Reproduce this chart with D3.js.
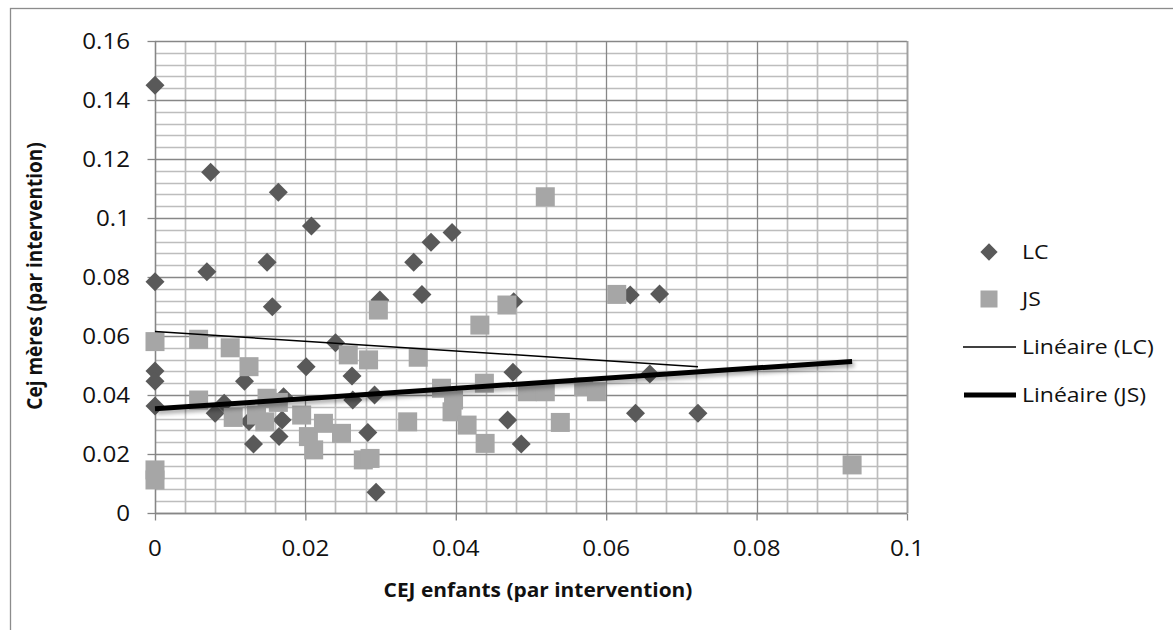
<!DOCTYPE html>
<html>
<head>
<meta charset="utf-8">
<script src="https://cdn.jsdelivr.net/npm/d3@7"></script>
<style>
  body { margin: 0; background: #fff; }
  text { font-family: "Open Sans", sans-serif; fill: #111; }
</style>
</head>
<body>
<script>
// *** DATA ***

// LC series: [CEJ enfants, Cej mères]
var lcPoints = [
  [0, 0.145], [0.0074, 0.1155], [0.0164, 0.1087], [0.0208, 0.0973],
  [0, 0.0784], [0.0069, 0.0818], [0.0149, 0.085], [0.0156, 0.0699],
  [0.0395, 0.0951], [0.0367, 0.0918], [0.0344, 0.085], [0.0355, 0.0741],
  [0.0299, 0.0722], [0.0477, 0.0716], [0.0632, 0.0739], [0.0671, 0.0742],
  [0.0658, 0.0471], [0.0639, 0.0338], [0.0722, 0.0338], [0.0487, 0.0234],
  [0.0476, 0.0477], [0.0469, 0.0315], [0.024, 0.0577], [0.0262, 0.0464],
  [0.0263, 0.0383], [0.0292, 0.04], [0.0283, 0.0273], [0.0294, 0.007],
  [0, 0.0481], [0, 0.0447], [0, 0.0363], [0.0201, 0.0496],
  [0.0119, 0.0447], [0.008, 0.0338], [0.0092, 0.0372], [0.0131, 0.0234],
  [0.0165, 0.0259], [0.0169, 0.0315], [0.0171, 0.0394], [0.0125, 0.031]
];

// JS series
var jsPoints = [
  [0, 0.0581], [0.0058, 0.0589], [0.01, 0.056], [0.0125, 0.0496],
  [0, 0.0146], [0, 0.0112], [0.0058, 0.0383], [0.0104, 0.0324],
  [0.0149, 0.0389], [0.0164, 0.0375], [0.0135, 0.0332], [0.0146, 0.0309],
  [0.0195, 0.0332], [0.0204, 0.0259], [0.0211, 0.0214], [0.0224, 0.0304],
  [0.0248, 0.027], [0.0297, 0.0688], [0.0432, 0.0637], [0.0468, 0.0705],
  [0.0257, 0.0536], [0.0284, 0.0519], [0.035, 0.0528], [0.0381, 0.0423],
  [0.0397, 0.0383], [0.0395, 0.0343], [0.0415, 0.0298], [0.0438, 0.044],
  [0.0439, 0.0236], [0.0336, 0.0309], [0.0277, 0.018], [0.0286, 0.0185],
  [0.0495, 0.0411], [0.0519, 0.0411], [0.0539, 0.0307], [0.057, 0.0428],
  [0.0587, 0.0411], [0.0614, 0.0741], [0.0519, 0.1072], [0.0927, 0.0163]
];

// trend lines: [intercept, slope]
var lcTrend = [0.0615, -0.1646];
var jsTrend = [0.0353, 0.1735];

var xTicks = [0, 0.02, 0.04, 0.06, 0.08, 0.1];
var yTicks = [0, 0.02, 0.04, 0.06, 0.08, 0.1, 0.12, 0.14, 0.16];
var legendLabels = ['LC', 'JS', 'Linéaire (LC)', 'Linéaire (JS)'];

// *** LAYOUT ***
var W = 1173, H = 630;
var plot = {left: 155, right: 907, top: 41, bottom: 513};
var stretch = 1.15;   // text in the picture is a bit wide

var x = d3.scaleLinear().domain([0, 0.1]).range([plot.left, plot.right]);
var y = d3.scaleLinear().domain([0, 0.16]).range([plot.bottom, plot.top]);

var svg = d3.select('body').append('svg')
  .attr('width', W).attr('height', H);

svg.append('rect').attr('width', W).attr('height', H).attr('fill', '#fff');

// outer chart border (only left/top visible in the picture)
svg.append('rect')
  .attr('x', 10.5).attr('y', 8.5)
  .attr('width', W + 20).attr('height', H + 20)
  .attr('fill', 'none').attr('stroke', '#8c8c8c').attr('stroke-width', 1.3);

var defs = svg.append('defs');
var f = defs.append('filter').attr('id', 'shadow')
  .attr('x', '-5%').attr('y', '-50%').attr('width', '110%').attr('height', '300%');
f.append('feDropShadow').attr('dx', 2).attr('dy', 3).attr('stdDeviation', 2)
  .attr('flood-color', '#000').attr('flood-opacity', 0.35);

// helper: horizontally stretched text
function label(g, tx, ty, str, anchor, size, weight, sx) {
  return g.append('text')
    .attr('transform', 'translate(' + tx + ',' + ty + ') scale(' + (sx || stretch) + ',1)')
    .attr('text-anchor', anchor)
    .attr('font-size', size)
    .attr('font-weight', weight || 'normal')
    .text(str);
}

// *** GRID ***
var minorX = d3.range(0, 0.1 + 1e-9, 0.004).filter(function(v){ return Math.abs(v/0.02 - Math.round(v/0.02)) > 1e-6; });
var minorY = d3.range(0, 0.16 + 1e-9, 0.004).filter(function(v){ return Math.abs(v/0.02 - Math.round(v/0.02)) > 1e-6; });

var grid = svg.append('g');
grid.selectAll('.mx').data(minorX).enter().append('line')
  .attr('x1', function(d){ return Math.round(x(d)) + 0.5; })
  .attr('x2', function(d){ return Math.round(x(d)) + 0.5; })
  .attr('y1', plot.top).attr('y2', plot.bottom)
  .attr('stroke', '#bdbdbd').attr('stroke-width', 1.7);
grid.selectAll('.my').data(minorY).enter().append('line')
  .attr('y1', function(d){ return Math.round(y(d)) + 0.5; })
  .attr('y2', function(d){ return Math.round(y(d)) + 0.5; })
  .attr('x1', plot.left).attr('x2', plot.right)
  .attr('stroke', '#bdbdbd').attr('stroke-width', 1.7);
grid.selectAll('.Mx').data(xTicks).enter().append('line')
  .attr('x1', function(d){ return Math.round(x(d)) + 0.5; })
  .attr('x2', function(d){ return Math.round(x(d)) + 0.5; })
  .attr('y1', plot.top).attr('y2', plot.bottom)
  .attr('stroke', '#878787').attr('stroke-width', 1.3);
grid.selectAll('.My').data(yTicks).enter().append('line')
  .attr('y1', function(d){ return Math.round(y(d)) + 0.5; })
  .attr('y2', function(d){ return Math.round(y(d)) + 0.5; })
  .attr('x1', plot.left).attr('x2', plot.right)
  .attr('stroke', '#878787').attr('stroke-width', 1.3);

// right edge of plot
grid.append('line')
  .attr('x1', plot.right + 0.5).attr('x2', plot.right + 0.5)
  .attr('y1', plot.top).attr('y2', plot.bottom)
  .attr('stroke', '#a0a0a0').attr('stroke-width', 1.7);

// *** AXES ***
var xAxis = svg.append('g')
  .attr('transform', 'translate(0,' + (Math.round(y(0)) + 0.5) + ')')
  .call(d3.axisBottom(x).tickValues(xTicks).tickSize(7).tickFormat(''));
var yAxis = svg.append('g')
  .attr('transform', 'translate(' + (Math.round(x(0)) + 0.5) + ',0)')
  .call(d3.axisLeft(y).tickValues(yTicks).tickSize(8).tickFormat(''));
[xAxis, yAxis].forEach(function(a){
  a.select('.domain').attr('stroke', '#868686').attr('stroke-width', 1.3);
  a.selectAll('.tick line').attr('stroke', '#868686').attr('stroke-width', 1.3);
});
yAxis.select('.domain').attr('d', 'M0,' + plot.top + 'V' + plot.bottom);
xAxis.select('.domain').attr('d', 'M' + plot.left + ',0H' + plot.right);

var fmt = function(v){ return String(+v.toFixed(2)); };
xTicks.forEach(function(t){ label(svg, x(t), 556, fmt(t), 'middle', 21); });
yTicks.forEach(function(t){ label(svg, 130, y(t) + 7.5, fmt(t), 'end', 21); });

label(svg, 538, 597, 'CEJ enfants (par intervention)', 'middle', 19, 'bold', 1.1);
svg.append('text')
  .attr('transform', 'translate(42,276) rotate(-90) scale(1,1.15)')
  .attr('text-anchor', 'middle').attr('font-size', 19).attr('font-weight', 'bold')
  .text('Cej mères (par intervention)');

// *** SERIES ***
var diamond = d3.symbol().type(d3.symbolDiamond2).size(230);
svg.append('g').selectAll('path').data(lcPoints).enter().append('path')
  .attr('d', diamond)
  .attr('transform', function(d){ return 'translate(' + x(d[0]) + ',' + y(d[1]) + ')'; })
  .attr('fill', '#595959');

var sq = 19;
svg.append('g').selectAll('rect').data(jsPoints).enter().append('rect')
  .attr('x', function(d){ return x(d[0]) - sq/2; })
  .attr('y', function(d){ return y(d[1]) - sq/2; })
  .attr('width', sq).attr('height', sq)
  .attr('fill', '#a6a6a6');

// trend lines
function trendLine(pts, coef) {
  var xmax = d3.max(pts, function(d){ return d[0]; });
  return [[0, coef[0]], [xmax, coef[0] + coef[1] * xmax]];
}
var line = d3.line().x(function(d){ return x(d[0]); }).y(function(d){ return y(d[1]); });

svg.append('path').datum(trendLine(lcPoints, lcTrend))
  .attr('d', line).attr('fill', 'none').attr('stroke', '#000').attr('stroke-width', 1.5);
svg.append('path').datum(trendLine(jsPoints, jsTrend))
  .attr('d', line).attr('fill', 'none').attr('stroke', '#000').attr('stroke-width', 5)
  .attr('filter', 'url(#shadow)');

// *** LEGEND ***
var legY = [252, 299, 347, 395];
var leg = svg.append('g');
leg.append('path').attr('d', d3.symbol().type(d3.symbolDiamond2).size(190))
  .attr('transform', 'translate(989,' + legY[0] + ')').attr('fill', '#595959');
leg.append('rect').attr('x', 980.5).attr('y', legY[1] - 8.5).attr('width', 17).attr('height', 17)
  .attr('fill', '#a6a6a6');
leg.append('line').attr('x1', 963).attr('x2', 1016).attr('y1', legY[2]).attr('y2', legY[2])
  .attr('stroke', '#000').attr('stroke-width', 1.5);
leg.append('line').attr('x1', 964).attr('x2', 1016).attr('y1', legY[3]).attr('y2', legY[3])
  .attr('stroke', '#000').attr('stroke-width', 5);
legendLabels.forEach(function(s, i){
  label(leg, 1022, legY[i] + 7, s, 'start', 20);
});
</script>
</body>
</html>
